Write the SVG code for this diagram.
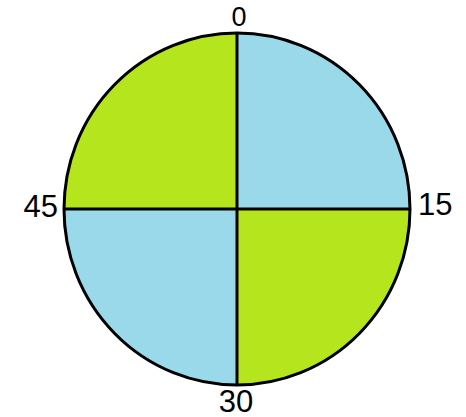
<svg xmlns="http://www.w3.org/2000/svg" width="466" height="417" viewBox="0 0 466 417">
<style>
.g{fill:#b5e61d}.b{fill:#99d9ea}
.l{stroke:#000;stroke-width:3;fill:none}
text{font-family:"Liberation Sans",Arial,sans-serif;font-size:31px;fill:#000}
</style>
<rect width="466" height="417" fill="#fff"/>
<g id="pie">
<path class="g" d="M237,209 L237,33 A173,176 0 0 0 64,209 Z"/>
<path class="b" d="M237,209 L237,33 A173,176 0 0 1 410,209 Z"/>
<path class="g" d="M237,209 L410,209 A173,176 0 0 1 237,385 Z"/>
<path class="b" d="M237,209 L237,385 A173,176 0 0 1 64,209 Z"/>
<ellipse class="l" cx="237" cy="209" rx="173" ry="176"/>
</g>
<g id="connectors">
<line class="l" x1="237" y1="33" x2="237" y2="385"/>
<line class="l" x1="64" y1="209" x2="410" y2="209"/>
</g>
<g id="labels">
<text x="239" y="26" text-anchor="middle" style="font-size:27px">0</text>
<text x="58" y="217" text-anchor="end">45</text>
<text x="418" y="215">15</text>
<text x="236" y="412" text-anchor="middle">30</text>
</g>
</svg>
